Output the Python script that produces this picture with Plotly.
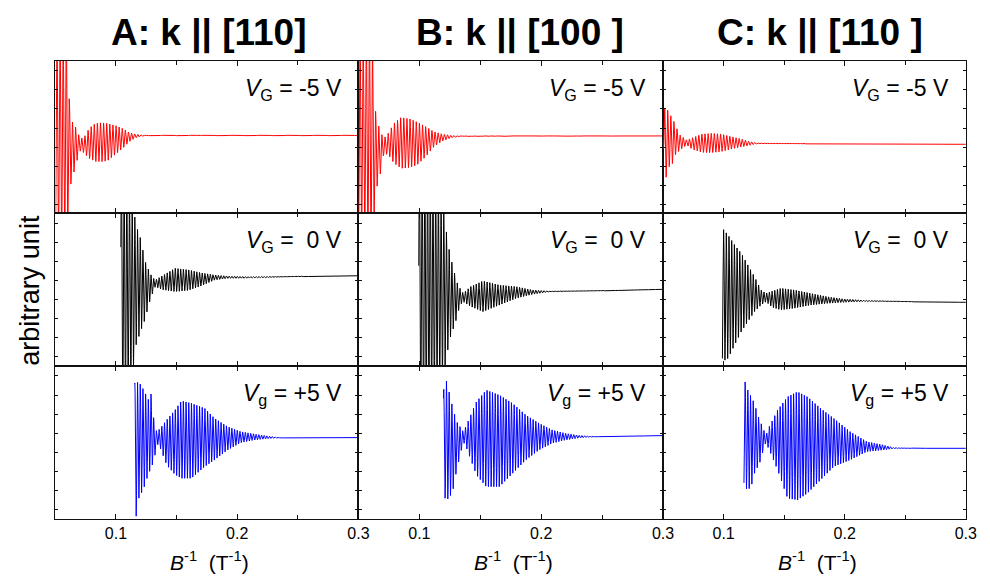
import numpy as np
import plotly.graph_objects as go

# ---------------------------------------------------------------------------
# Shubnikov-de Haas traces vs inverse field, three crystal directions (columns)
# and three gate voltages (rows).  Each trace is stored as its oscillation
# envelope (upper / lower extremes, arbitrary units, panel spans 0..10)
# sampled at inverse-field positions, plus its oscillation frequency (T).
# ---------------------------------------------------------------------------

columns = ["A: k || [110]", "B: k || [100 ]", "C: k || [110 ]"]
gate_labels = [
    "<i>V</i><sub>G</sub> = -5 V",
    "<i>V</i><sub>G</sub> =&nbsp; 0 V",
    "<i>V</i><sub>g</sub> = +5 V",
]
row_colors = ["#ff0000", "#000000", "#0000ff"]
row_freq_T = [390.0, 450.0, 450.0]
x_tick_vals = [0.1, 0.2, 0.3]
x_tick_text = ["0.1", "0.2", "0.3"]

# ---- V_G = -5 V (red) ------------------------------------------------------
red_A_x = [0.05, 0.060, 0.0615, 0.064, 0.066, 0.070, 0.073, 0.078, 0.083, 0.088,
           0.093, 0.100, 0.106, 0.111, 0.116, 0.124, 0.30]
red_A_hi = [12, 12, 7.4, 6.0, 5.8, 5.0, 4.9, 5.6, 5.9, 5.95, 5.9, 5.75, 5.55, 5.3,
            5.2, 5.12, 5.12]
red_A_lo = [-2, -2, 1.5, 2.3, 2.9, 4.1, 4.0, 3.6, 3.4, 3.39, 3.45, 3.9, 4.3, 4.7,
            4.95, 5.1, 5.1]

red_B_x = [0.05, 0.061, 0.0635, 0.0655, 0.068, 0.0705, 0.074, 0.079, 0.085, 0.092,
           0.098, 0.105, 0.112, 0.119, 0.126, 0.134, 0.30]
red_B_hi = [12, 12, 7.0, 6.0, 5.4, 4.9, 5.2, 5.9, 6.3, 6.2, 6.0, 5.7, 5.36, 5.2,
            5.12, 5.08, 5.08]
red_B_lo = [-2, -2, 0.3, 1.9, 2.6, 3.8, 3.9, 3.3, 2.95, 3.0, 3.17, 3.7, 4.38, 4.75,
            4.95, 5.05, 5.08]

red_C_x = [0.05, 0.0515, 0.0555, 0.058, 0.060, 0.064, 0.0695, 0.074, 0.082, 0.090,
           0.098, 0.1065, 0.114, 0.120, 0.128, 0.20, 0.30]
red_C_hi = [4.66, 7.15, 6.5, 6.24, 5.8, 5.14, 4.81, 4.95, 5.2, 5.25, 5.2, 5.03, 4.9,
            4.74, 4.62, 4.56, 4.53]
red_C_lo = [4.66, 2.08, 3.17, 3.28, 3.83, 4.16, 4.48, 4.2, 4.0, 3.98, 4.05, 4.22,
            4.35, 4.44, 4.56, 4.56, 4.53]

# ---- V_G = 0 V (black) -----------------------------------------------------
blk_A_x = [0.104, 0.113, 0.1166, 0.1202, 0.1242, 0.1269, 0.1296, 0.1324, 0.138,
           0.1487, 0.1595, 0.1704, 0.1813, 0.1921, 0.2084, 0.25, 0.30]
blk_A_hi = [14, 11, 9.24, 8.36, 6.83, 6.29, 5.85, 5.63, 5.9, 6.4, 6.3, 6.1, 5.96,
            5.89, 5.85, 5.88, 5.91]
blk_A_lo = [-4, -1, 1.38, 2.25, 3.1, 3.99, 4.65, 5.2, 5.0, 4.87, 4.95, 5.25, 5.63,
            5.74, 5.75, 5.85, 5.91]

blk_B_x = [0.0995, 0.119, 0.1225, 0.1252, 0.1279, 0.1306, 0.1333, 0.136, 0.142,
           0.1522, 0.1657, 0.1793, 0.1927, 0.2063, 0.25, 0.30]
blk_B_hi = [15, 11, 8.58, 7.27, 6.4, 5.52, 5.09, 4.76, 5.2, 5.57, 5.3, 5.2, 4.98,
            4.91, 4.95, 5.02]
blk_B_lo = [-5, -1, 0.72, 1.81, 2.46, 3.12, 3.99, 4.21, 3.9, 3.56, 3.99, 4.43, 4.69,
            4.85, 4.92, 5.02]

blk_C_x = [0.099, 0.1037, 0.1091, 0.1146, 0.12, 0.1255, 0.1309, 0.135, 0.140,
           0.1473, 0.1582, 0.1718, 0.1855, 0.1991, 0.2182, 0.26, 0.30]
blk_C_hi = [9.02, 8.58, 7.93, 7.38, 6.62, 5.85, 4.98, 4.76, 4.9, 5.09, 4.98, 4.76,
            4.54, 4.39, 4.3, 4.22, 4.17]
blk_C_lo = [0.28, 0.5, 1.37, 2.25, 2.9, 3.56, 3.99, 4.21, 3.85, 3.67, 3.78, 3.99,
            4.1, 4.17, 4.22, 4.2, 4.17]

# ---- V_g = +5 V (blue) -----------------------------------------------------
blu_A_x = [0.1155, 0.1166, 0.1188, 0.1229, 0.1269, 0.1291, 0.1318, 0.1337, 0.1365,
           0.142, 0.1487, 0.1541, 0.1622, 0.1731, 0.1813, 0.1921, 0.203, 0.2139,
           0.2247, 0.2356, 0.30]
blu_A_hi = [8.9, 8.87, 8.98, 8.43, 7.78, 8.21, 6.04, 5.71, 5.93, 6.5, 7.13, 7.73,
            7.56, 7.24, 6.58, 6.04, 5.71, 5.56, 5.43, 5.32, 5.32]
blu_A_lo = [0.15, 0.15, 1.35, 2.0, 2.98, 3.31, 3.97, 4.95, 4.62, 3.5, 2.9, 2.66,
            2.66, 3.42, 3.86, 4.51, 4.99, 5.16, 5.25, 5.3, 5.32]

blu_B_x = [0.1198, 0.1225, 0.1252, 0.1279, 0.1306, 0.1333, 0.136, 0.1387, 0.1468,
           0.1549, 0.1657, 0.1765, 0.1874, 0.1982, 0.209, 0.2198, 0.2306, 0.2468,
           0.30]
blu_B_hi = [8.43, 9.08, 7.99, 7.13, 6.37, 6.04, 5.71, 6.15, 7.67, 8.43, 8.1, 7.56,
            6.8, 6.26, 5.82, 5.6, 5.47, 5.38, 5.45]
blu_B_lo = [1.46, 1.24, 1.46, 2.0, 3.2, 4.08, 5.06, 4.62, 2.88, 2.11, 2.11, 2.98,
            3.86, 4.51, 4.95, 5.16, 5.29, 5.38, 5.45]

blu_C_x = [0.1168, 0.12, 0.1228, 0.1255, 0.1282, 0.1309, 0.1337, 0.135, 0.1377,
           0.1446, 0.1528, 0.161, 0.1691, 0.18, 0.1909, 0.2045, 0.2182, 0.2318,
           0.24, 0.2591, 0.30]
blu_C_hi = [9.19, 8.43, 7.99, 7.56, 6.8, 6.26, 5.71, 5.5, 6.04, 7.13, 7.99, 8.32,
            7.99, 7.24, 6.58, 5.71, 5.06, 4.84, 4.68, 4.62, 4.62]
blu_C_lo = [2.11, 1.9, 2.11, 2.98, 3.42, 3.86, 4.84, 4.95, 4.51, 3.2, 1.35, 1.24,
            1.68, 2.55, 3.42, 3.86, 4.4, 4.51, 4.59, 4.62, 4.62]

envelopes = [
    [(red_A_x, red_A_hi, red_A_lo), (red_B_x, red_B_hi, red_B_lo), (red_C_x, red_C_hi, red_C_lo)],
    [(blk_A_x, blk_A_hi, blk_A_lo), (blk_B_x, blk_B_hi, blk_B_lo), (blk_C_x, blk_C_hi, blk_C_lo)],
    [(blu_A_x, blu_A_hi, blu_A_lo), (blu_B_x, blu_B_hi, blu_B_lo), (blu_C_x, blu_C_hi, blu_C_lo)],
]


def sdh_trace(knots_x, hi, lo, freq, n=5000):
    """Oscillation between the stored upper/lower envelopes at frequency freq."""
    x = np.linspace(knots_x[0], knots_x[-1], n)
    upper = np.interp(x, knots_x, hi)
    lower = np.interp(x, knots_x, lo)
    y = 0.5 * (upper + lower) + 0.5 * (upper - lower) * np.cos(2 * np.pi * freq * x)
    return np.round(x, 6), np.round(y, 4)


# ---- panel geometry (paper fractions) ------------------------------------
W, H = 990, 579
col_px = [(56, 362.5), (362.5, 670.5), (670.5, 976.7)]
row_px = [(61, 213.3), (213.3, 366), (366, 519)]
FONT = "Liberation Sans, Arial, sans-serif"
TITLE_FONT = "Liberation Sans Narrow, Arial Narrow, Liberation Sans, Arial"

fig = go.Figure()
layout = dict(
    width=W, height=H, margin=dict(l=0, r=0, t=0, b=0),
    paper_bgcolor="white", plot_bgcolor="white", showlegend=False,
    font=dict(family=FONT, color="black"),
)
annotations = []

for r in range(3):
    for c in range(3):
        idx = r * 3 + c + 1
        sfx = "" if idx == 1 else str(idx)
        kx, hi, lo = envelopes[r][c]
        xs, ys = sdh_trace(kx, hi, lo, row_freq_T[r])
        fig.add_trace(go.Scatter(
            x=xs, y=ys, mode="lines", xaxis="x" + sfx, yaxis="y" + sfx,
            line=dict(color=row_colors[r], width=1), hoverinfo="skip",
        ))
        x0, x1 = col_px[c]
        y0, y1 = row_px[r]
        layout["xaxis" + sfx] = dict(
            domain=[x0 / W, x1 / W], anchor="y" + sfx, range=[0.05, 0.3],
            showgrid=False, zeroline=False, showline=True, linecolor="#111111",
            linewidth=1.2, mirror="ticks", ticks="inside", ticklen=5,
            tickcolor="#111111", tickvals=x_tick_vals, ticktext=x_tick_text,
            showticklabels=(r == 2), tickfont=dict(size=16, family=FONT, color="black"),
            minor=dict(tickvals=[0.15, 0.25], ticks="inside", ticklen=4,
                       tickcolor="#111111"),
        )
        layout["yaxis" + sfx] = dict(
            domain=[1 - y1 / H, 1 - y0 / H], anchor="x" + sfx, range=[0, 10],
            showgrid=False, zeroline=False, showline=True, linecolor="#111111",
            linewidth=1.2, mirror="ticks", ticks="inside", ticklen=3,
            tickcolor="#111111", tick0=0.6, dtick=1.25, showticklabels=False,
        )
        # gate-voltage label in the upper right of each panel
        annotations.append(dict(
            xref="paper", yref="paper", x=(x1 - 15) / W, y=1 - (y0 + 28) / H,
            xanchor="right", yanchor="middle", showarrow=False,
            text=gate_labels[r], font=dict(size=23, family=FONT),
        ))
        if r == 2:
            annotations.append(dict(
                xref="paper", yref="paper", x=((x0 + x1) / 2 + 3) / W,
                y=1 - 561 / H, xanchor="center", yanchor="middle",
                showarrow=False, font=dict(size=21, family=FONT),
                text="<i>B</i><sup>-1</sup>&nbsp; (T<sup>-1</sup>)",
            ))

# column headings
for c, title in enumerate(columns):
    annotations.append(dict(
        xref="paper", yref="paper", x=[211, 526, 829][c] / W, y=1 - 33 / H,
        xanchor="center", yanchor="middle", showarrow=False,
        text="<b>" + title + "</b>",
        font=dict(size=37, family=TITLE_FONT),
    ))

# shared vertical axis label
annotations.append(dict(
    xref="paper", yref="paper", x=30 / W, y=1 - 290 / H, xanchor="center",
    yanchor="middle", showarrow=False, textangle=-90, text="arbitrary unit",
    font=dict(size=27, family=FONT),
))

layout["annotations"] = annotations
fig.update_layout(**layout)
fig.write_html("out.html")
